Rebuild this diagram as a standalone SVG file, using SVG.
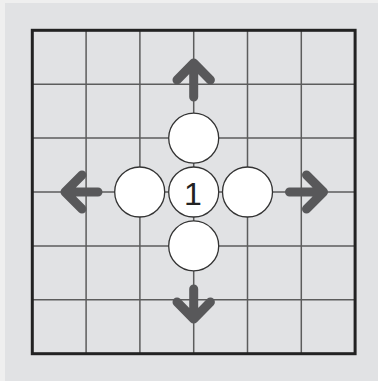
<svg xmlns="http://www.w3.org/2000/svg" width="378" height="381" viewBox="0 0 378 381">
  <style>
    .grid { stroke: #5c5c5c; stroke-width: 1.5; fill: none; }
    .border { stroke: #222; stroke-width: 3; fill: none; }
    .stone { fill: #fff; stroke: #333; stroke-width: 1.3; }
    .arrow { stroke: #58585a; stroke-width: 9; fill: none; stroke-linecap: round; stroke-linejoin: round; }
    .label { font-family: "Liberation Sans", Arial, sans-serif; font-size: 32px; fill: #222; text-anchor: middle; }
  </style>
  <rect x="0" y="0" width="378" height="381" fill="#efefef"/>
  <rect x="5" y="3" width="373" height="378" fill="#e1e2e4"/>
  <g id="board">
    <path class="grid" d="M86.1 30.3V353.7M139.9 30.3V353.7M193.7 30.3V353.7M247.5 30.3V353.7M301.3 30.3V353.7M32.3 84.2H355.1M32.3 138.1H355.1M32.3 192H355.1M32.3 245.9H355.1M32.3 299.8H355.1"/>
    <rect class="border" x="32.3" y="30.3" width="322.8" height="323.4"/>
  </g>
  <g id="connectors">
    <path class="arrow" d="M193.7 97V63M177 80L193.7 63L210.4 80"/>
    <path class="arrow" d="M193.7 289V319M177 302L193.7 319L210.4 302"/>
    <path class="arrow" d="M98 192H65M82 175L65 192L82 209"/>
    <path class="arrow" d="M289.5 192H323.5M306.5 175L323.5 192L306.5 209"/>
  </g>
  <g id="stone-top"><circle class="stone" cx="193.7" cy="138.1" r="25"/></g>
  <g id="stone-left"><circle class="stone" cx="139.7" cy="192" r="25"/></g>
  <g id="stone-right"><circle class="stone" cx="247.5" cy="192" r="25"/></g>
  <g id="stone-bottom"><circle class="stone" cx="193.7" cy="245.9" r="25"/></g>
  <g id="stone-center">
    <circle class="stone" cx="193.7" cy="192" r="25"/>
    <text class="label" x="193" y="204.5">1</text>
  </g>
</svg>
